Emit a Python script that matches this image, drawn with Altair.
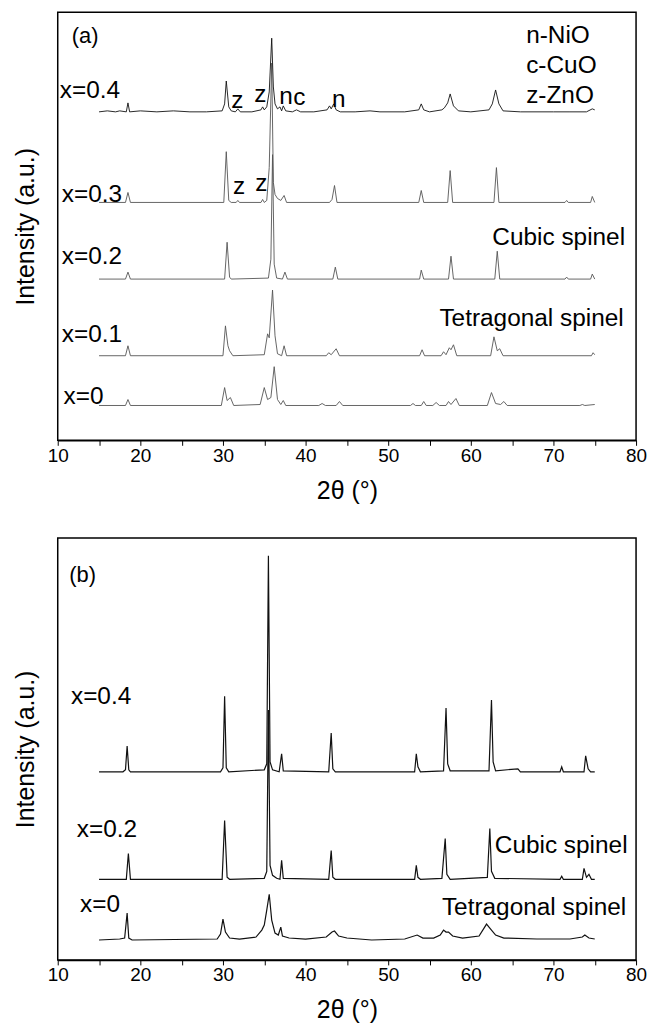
import altair as alt
import pandas as pd

FONT = "Liberation Sans"

# ---------------- Panel (a) data: 2theta points and heights above each trace's baseline
a_series = ["x=0", "x=0.1", "x=0.2", "x=0.3", "x=0.4"]
a_offsets = [35, 85, 162, 239, 330]
a_colors = ["#555555", "#555555", "#555555", "#555555", "#111111"]
a_widths = [0.9, 0.9, 0.9, 0.9, 1.3]

a0_tt = [15.0, 18.2, 18.5, 18.8, 29.8, 30.2, 30.5, 30.9, 31.3, 34.5, 35.0, 35.4, 35.8, 36.2, 36.6, 37.0, 37.3, 37.6,
         41.6, 42.0, 42.4, 43.7, 44.1, 44.5, 52.7, 53.0, 53.3, 54.0, 54.3, 54.6, 55.4, 55.8, 56.2, 57.0, 57.3, 57.6,
         58.2, 58.6, 62.0, 62.5, 63.0, 63.6, 64.0, 64.4, 73.2, 73.5, 73.8, 75.0]
a0_i = [0, 0, 6, 0, 0, 18, 5, 8, 0, 1, 18, 6, 8, 39, 6, 1, 5, 0,
        0, 2, 0, 0, 4, 0, 0, 2, 0, 0, 4, 0, 0, 3, 0, 0, 4, 1,
        7, 0, 0, 13, 2, 1, 4, 0, 0, 1, 0, 1]

a1_tt = [15.0, 18.2, 18.5, 18.8, 30.0, 30.3, 30.6, 30.8, 31.2, 35.0, 35.4, 35.6, 36.0, 36.3, 36.6, 37.1, 37.4, 37.7,
         42.5, 42.8, 43.1, 43.7, 44.1, 53.8, 54.1, 54.4, 56.4, 56.7, 57.0, 57.4, 57.6, 57.9, 58.3,
         62.4, 62.8, 63.2, 63.5, 63.9, 74.6, 74.8, 75.0]
a1_i = [0, 0, 10, 0, 0, 30, 10, 5, 0, 1, 22, 18, 66, 20, 2, 0, 10, 0,
        0, 3, 1, 7, 0, 0, 6, 0, 0, 4, 1, 8, 6, 11, 0,
        0, 19, 5, 7, 0, 0, 3, 1]

a2_tt = [15.0, 18.2, 18.5, 18.8, 30.2, 30.5, 30.8, 31.0, 35.5, 35.8, 36.0, 36.2, 36.5, 37.2, 37.5, 37.8,
         43.3, 43.6, 43.9, 53.8, 54.0, 54.3, 57.3, 57.6, 57.9, 62.9, 63.2, 63.5, 71.4, 71.6, 71.8, 74.5, 74.7, 75.0]
a2_i = [0, 0, 7, 0, 0, 37, 2, 0, 1, 20, 125, 15, 1, 0, 7, 0,
        0, 12, 0, 0, 9, 0, 0, 23, 0, 0, 28, 0, 0, 2, 0, 0, 5, 0]

a3_tt = [15.0, 18.2, 18.5, 18.8, 30.1, 30.4, 30.7, 31.0, 31.6, 31.8, 32.0, 34.6, 34.8, 35.0, 35.3, 35.6, 35.9, 36.1,
         36.3, 36.6, 37.0, 37.4, 37.7, 42.9, 43.2, 43.5, 43.8, 53.7, 54.0, 54.3, 57.2, 57.5, 57.8,
         62.8, 63.1, 63.4, 71.4, 71.6, 71.8, 74.5, 74.7, 75.0]
a3_i = [0, 0, 10, 0, 0, 51, 2, 0, 0, 2, 0, 0, 3, 0, 2, 35, 140, 20,
        8, 4, 2, 7, 0, 0, 3, 17, 0, 0, 12, 0, 0, 32, 0,
        0, 35, 0, 0, 2, 0, 0, 6, 0]

a4_tt = [15.0, 16.0, 17.0, 17.5, 18.3, 18.5, 18.7, 20.0, 22.0, 24.0, 26.0, 28.0, 29.9, 30.2, 30.4, 30.7, 31.0,
         31.5, 31.8, 32.1, 33.5, 34.6, 34.8, 35.0, 35.3, 35.6, 35.9, 36.1, 36.3, 36.6, 36.9, 37.1, 37.3, 37.6,
         38.4, 38.9, 39.4, 41.0, 42.6, 42.9, 43.1, 43.4, 43.7, 44.2, 46.0, 47.8, 49.0, 52.0, 53.7, 54.0, 54.3,
         55.0, 56.5, 56.8, 57.2, 57.5, 57.9, 58.5, 60.0, 62.2, 62.6, 63.0, 63.4, 63.9, 66.0, 70.0, 72.0, 74.0,
         74.7, 75.0]
a4_i = [0, 1, 0, 1, 0, 9, 0, 1, 0, 1, 0, 0, 1, 8, 31, 5, 1,
        0, 3, 0, 0, 2, 5, 2, 5, 20, 74, 25, 8, 3, 5, 1, 6, 1,
        0, 2, 0, 0, 2, 6, 3, 8, 2, 0, 0, 1, 0, 0, 2, 8, 2,
        0, 2, 4, 9, 18, 6, 1, 0, 2, 8, 22, 8, 1, 0, 0, 0, 0,
        3, 2]

# labels in panel (a): text, 2theta of left edge, height
a_text = ["x=0.4", "x=0.3", "x=0.2", "x=0.1", "x=0", "z", "z", "n", "c", "n", "z", "z",
          "n-NiO", "c-CuO", "z-ZnO", "Cubic spinel", "Tetragonal spinel"]
a_text_x = [10.25, 10.5, 10.5, 10.5, 10.7, 31.0, 33.8, 36.8, 38.5, 43.2, 31.2, 33.9,
            66.7, 66.7, 66.7, 62.6, 56.2]
a_text_y = [351, 246, 184, 106, 44, 341, 347, 345, 344, 342, 254, 257,
            406, 376, 346, 203, 122]
a_tag = ["(a)"]
a_tag_x = [11.7]
a_tag_y = [406]

# ---------------- Panel (b) data
b_series = ["x=0", "x=0.2", "x=0.4"]
b_offsets = [20, 81, 189]
b_colors = ["#111111", "#111111", "#111111"]
b_widths = [1.2, 1.2, 1.2]

b0_tt = [15.0, 17.5, 18.1, 18.4, 18.6, 19.0, 29.3, 29.7, 30.0, 30.3, 30.8, 32.0, 34.0, 34.7, 35.0, 35.3, 35.6,
         35.9, 36.3, 36.7, 37.0, 37.2, 38.0, 40.0, 42.5, 43.2, 43.5, 44.0, 45.0, 48.0, 52.0, 53.5, 54.2, 55.5,
         56.3, 56.7, 57.0, 57.3, 57.8, 59.0, 61.0, 61.6, 61.9, 62.4, 63.0, 64.0, 68.0, 72.0, 73.5, 73.8, 74.3, 75.0]
b0_i = [0, 1, 2, 27, 2, 0, 1, 6, 21, 8, 2, 1, 3, 10, 15, 30, 46,
        20, 7, 5, 13, 4, 2, 1, 3, 8, 9, 4, 2, 0, 1, 5, 2, 2,
        5, 10, 8, 8, 4, 2, 4, 12, 16, 11, 5, 2, 1, 1, 3, 5, 2, 1]

b2_tt = [15.0, 18.3, 18.55, 18.8, 29.9, 30.2, 30.5, 30.8, 35.0, 35.3, 35.5, 35.7, 36.0, 36.5, 36.9, 37.1, 37.3,
         42.8, 43.1, 43.3, 43.6, 53.2, 53.4, 53.6, 53.9, 56.5, 56.9, 57.1, 57.5, 62.0, 62.3, 62.5, 62.9,
         70.8, 71.0, 71.2, 73.5, 73.7, 74.0, 74.3, 74.6, 75.0]
b2_i = [0, 0, 26, 0, 0, 59, 2, 0, 1, 8, 170, 14, 4, 1, 0, 19, 1,
        0, 29, 2, 0, 0, 14, 2, 0, 1, 41, 5, 0, 2, 51, 8, 1,
        0, 3, 0, 0, 11, 2, 5, 0, 0]

b4_tt = [15.0, 17.9, 18.2, 18.4, 18.6, 18.8, 29.7, 30.0, 30.2, 30.4, 30.7, 35.0, 35.3, 35.5, 35.7, 36.0, 36.8,
         37.1, 37.3, 42.8, 43.1, 43.3, 43.6, 53.2, 53.4, 53.6, 53.9, 56.7, 57.0, 57.2, 57.5, 62.2, 62.5, 62.7,
         63.0, 65.7, 66.0, 70.8, 71.0, 71.2, 73.7, 73.9, 74.2, 74.5, 75.0]
b4_i = [0, 0, 2, 26, 2, 0, 0, 4, 76, 4, 0, 2, 8, 217, 10, 2, 0,
        18, 1, 0, 39, 3, 0, 0, 18, 5, 0, 1, 64, 8, 1, 1, 72, 10,
        1, 3, 0, 0, 5, 0, 0, 16, 3, 0, 0]

b_text = ["x=0.4", "x=0.2", "x=0", "Cubic spinel", "Tetragonal spinel"]
b_text_x = [11.6, 12.3, 12.7, 62.9, 56.5]
b_text_y = [264, 130, 55, 114, 52]
b_tag = ["(b)"]
b_tag_x = [11.4]
b_tag_y = [387]


def make_df(series, offsets, tts, ints):
    rows = []
    for name, off, tt, it in zip(series, offsets, tts, ints):
        for t, v in zip(tt, it):
            rows.append({"tt": t, "I": v + off, "series": name})
    return pd.DataFrame(rows)


def text_df(texts, xs, ys):
    return pd.DataFrame({"tt": xs, "I": ys, "label": texts})


def panel(df, series, colors, widths, tdf, tagdf, ytop, height):
    xaxis = alt.Axis(
        title="2θ (°)", values=list(range(10, 81, 5)),
        labelExpr="datum.value % 10 === 0 ? datum.label : ''",
        labelFlush=False, labelOverlap=False, grid=False,
        tickSize=5, tickColor="black", tickWidth=1,
        domainColor="black", domainWidth=1.5,
        labelFont=FONT, labelFontSize=19, labelColor="black", labelPadding=1,
        titleFont=FONT, titleFontSize=25, titleFontWeight="normal", titleColor="black",
        titlePadding=13,
    )
    yaxis = alt.Axis(
        title="Intensity (a.u.)", labels=False, ticks=False, domain=False, grid=False,
        titleFont=FONT, titleFontSize=25, titleFontWeight="normal", titleColor="black",
        titlePadding=19,
    )
    x = alt.X("tt:Q", scale=alt.Scale(domain=[10, 80], nice=False, zero=False), axis=xaxis)
    y = alt.Y("I:Q", scale=alt.Scale(domain=[0, ytop], nice=False, zero=False), axis=yaxis)
    lines = alt.Chart(df).mark_line(interpolate="linear").encode(
        x=x, y=y,
        color=alt.Color("series:N", scale=alt.Scale(domain=series, range=colors), legend=None),
        strokeWidth=alt.StrokeWidth("series:N", scale=alt.Scale(domain=series, range=widths), legend=None),
        detail="series:N",
    )
    texts = alt.Chart(tdf).mark_text(
        align="left", baseline="middle", font=FONT, fontSize=24.5, color="black"
    ).encode(x=x, y=y, text="label:N")
    tags = alt.Chart(tagdf).mark_text(
        align="left", baseline="middle", font=FONT, fontSize=22, color="black"
    ).encode(x=x, y=y, text="label:N")
    return alt.layer(lines, texts, tags).properties(width=581, height=height).resolve_scale(
        color="independent", strokeWidth="independent")


df_a = make_df(a_series, a_offsets, [a0_tt, a1_tt, a2_tt, a3_tt, a4_tt], [a0_i, a1_i, a2_i, a3_i, a4_i])
df_b = make_df(b_series, b_offsets, [b0_tt, b2_tt, b4_tt], [b0_i, b2_i, b4_i])

pa = panel(df_a, a_series, a_colors, a_widths, text_df(a_text, a_text_x, a_text_y),
           text_df(a_tag, a_tag_x, a_tag_y), 430, 430)
pb = panel(df_b, b_series, b_colors, b_widths, text_df(b_text, b_text_x, b_text_y),
           text_df(b_tag, b_tag_x, b_tag_y), 424, 424)

chart = alt.vconcat(pa, pb, spacing=33).resolve_scale(
    color="independent", strokeWidth="independent"
).properties(
    padding={"left": 13, "top": 9, "right": 0, "bottom": 0},
    background="white",
).configure_view(stroke="black", strokeWidth=1.5)

chart.save("out.html", embed_options={"renderer": "svg", "actions": False})
